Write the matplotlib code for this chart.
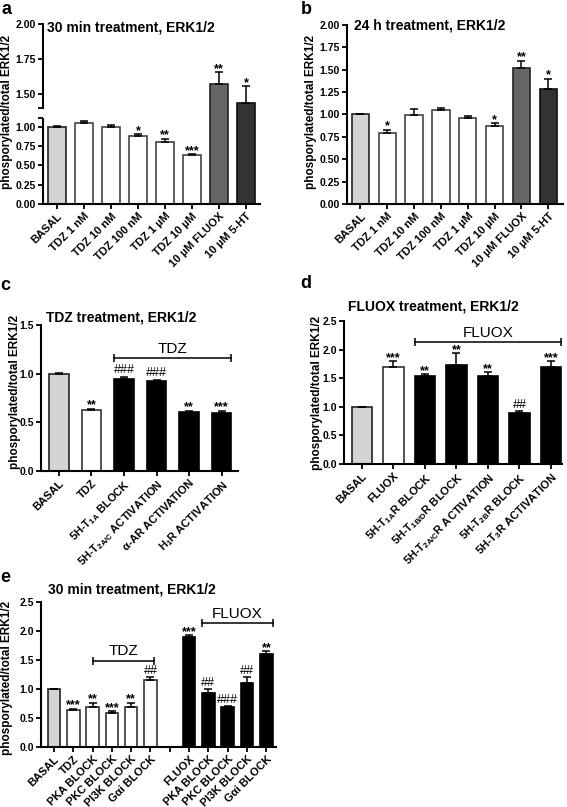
import numpy as np
import matplotlib
matplotlib.use('Agg')
import matplotlib.pyplot as plt

plt.rcParams['font.family'] = ['Liberation Sans', 'DejaVu Sans']
plt.rcParams['font.weight'] = 'bold'
plt.rcParams['mathtext.fontset'] = 'custom'
plt.rcParams['mathtext.rm'] = 'Liberation Sans:bold'
plt.rcParams['mathtext.it'] = 'Liberation Sans:bold'
plt.rcParams['mathtext.bf'] = 'Liberation Sans:bold'
plt.rcParams['mathtext.default'] = 'rm'

# ---- data ----
a_labels = ['BASAL', 'TDZ 1 nM', 'TDZ 10 nM', 'TDZ 100 nM', 'TDZ 1 µM', 'TDZ 10 µM',
            '10 µM FLUOX', '10 µM 5-HT']
a_means = [1.00, 1.05, 0.99, 0.88, 0.80, 0.63, 1.575, 1.435]
a_errs = [0.005, 0.02, 0.03, 0.02, 0.04, 0.01, 0.08, 0.12]
a_sig = ['', '', '', '*', '**', '***', '**', '*']

b_labels = a_labels
b_means = [1.00, 0.79, 0.99, 1.05, 0.96, 0.87, 1.52, 1.28]
b_errs = [0.005, 0.04, 0.07, 0.02, 0.02, 0.03, 0.08, 0.12]
b_sig = ['', '*', '', '', '', '*', '**', '*']

c_labels = ['BASAL', 'TDZ', '5H-T$_{1A}$ BLOCK', '5H-T$_{2A/C}$ ACTIVATION',
            'α-AR ACTIVATION', 'H$_1$R ACTIVATION']
c_means = [1.00, 0.63, 0.95, 0.92, 0.61, 0.60]
c_errs = [0.005, 0.01, 0.02, 0.02, 0.01, 0.02]
c_sig = ['', '**', '###', '###', '**', '***']

d_labels = ['BASAL', 'FLUOX', '5H-T$_{1A}$R BLOCK', '5H-T$_{1B/D}$R BLOCK',
            '5H-T$_{2A/C}$R ACTIVATION', '5H-T$_{2B}$R BLOCK', '5H-T$_3$R ACTIVATION']
d_means = [1.00, 1.69, 1.53, 1.73, 1.54, 0.90, 1.69]
d_errs = [0.005, 0.11, 0.04, 0.21, 0.06, 0.02, 0.11]
d_sig = ['', '***', '**', '**', '**', '##', '***']

e_tdz_labels = ['BASAL', 'TDZ', 'PKA BLOCK', 'PKC BLOCK', 'PI3K BLOCK', 'Gαi BLOCK']
e_tdz_means = [1.00, 0.645, 0.69, 0.59, 0.69, 1.15]
e_tdz_errs = [0.005, 0.015, 0.07, 0.03, 0.07, 0.05]
e_tdz_sig = ['', '***', '**', '***', '**', '##']
e_flx_labels = ['FLUOX', 'PKA BLOCK', 'PKC BLOCK', 'PI3K BLOCK', 'Gαi BLOCK']
e_flx_means = [1.90, 0.93, 0.69, 1.10, 1.60]
e_flx_errs = [0.03, 0.07, 0.01, 0.10, 0.05]
e_flx_sig = ['***', '##', '###', '##', '**']

# ---- styles ----
GRAY = '#d4d4d4'
W, H = 567, 807
fig = plt.figure(figsize=(W / 100, H / 100), dpi=100)


def px_axes(left, top, right, bottom):
    return fig.add_axes([left / W, 1 - bottom / H, (right - left) / W, (bottom - top) / H])


def style_axes(ax, bottom=True):
    ax.spines['top'].set_visible(False)
    ax.spines['right'].set_visible(False)
    ax.spines['left'].set_linewidth(1.5)
    ax.spines['bottom'].set_linewidth(1.5)
    if not bottom:
        ax.spines['bottom'].set_visible(False)
    ax.tick_params(axis='both', which='both', direction='out', length=3.5, width=1.3,
                   labelsize=7.5, pad=1.5)


def draw_bars(ax, x, means, errs, colors, edges, width):
    ax.bar(x, means, width, color=colors, edgecolor=edges, linewidth=1.2, zorder=2)
    ax.errorbar(x, means, yerr=[np.zeros(len(errs)), errs], fmt='none', ecolor='k',
                elinewidth=1.1, capsize=3, capthick=1.1, zorder=3)


def add_sig(ax, x, means, errs, sig):
    for xi, m, e, s in zip(x, means, errs, sig):
        if not s:
            continue
        top = m + e
        if s.startswith('#'):
            ax.annotate(s, (xi, top), xytext=(0, 0.3), textcoords='offset points',
                        ha='center', va='bottom', fontsize=9, fontweight='normal',
                        annotation_clip=False)
        else:
            ax.annotate(s, (xi, top), xytext=(0, 0.2), textcoords='offset points',
                        ha='center', va='baseline', fontsize=9, fontweight='bold',
                        annotation_clip=False)


def bracket(ax, x0, x1, y, text):
    ax.plot([x0, x1], [y, y], color='k', lw=1.1, clip_on=False)
    ax.plot([x0, x1], [y, y], ls='none', marker='|', ms=6, mew=1.1, color='k', clip_on=False)
    ax.annotate(text, ((x0 + x1) / 2, y), xytext=(0, 1.5), textcoords='offset points',
                ha='center', va='bottom', fontsize=11, fontweight='normal')


def xlabels(ax, x, labels):
    ax.set_xticks(x)
    ax.set_xticklabels(labels, rotation=45, ha='right', rotation_mode='anchor', fontsize=8)


def ylabel(xp, yp):
    fig.text(xp / W, 1 - yp / H, 'phosporylated/total ERK1/2', rotation=90,
             ha='center', va='center', fontsize=8.5, fontweight='bold')


def title(xp, yp, s):
    fig.text(xp / W, 1 - yp / H, s, ha='left', va='center', fontsize=10, fontweight='bold')


def letter(xp, yp, s):
    fig.text(xp / W, 1 - yp / H, s, ha='center', va='center', fontsize=13, fontweight='bold')


# ---- panel a (broken axis) ----
a_colors = [GRAY] + ['white'] * 5 + ['#666666', '#333333']
a_edges = ['#222222'] + ['#444444'] * 5 + ['#222222', '#111111']
xa = np.arange(len(a_labels))
ax_lo = px_axes(43, 118, 260, 204)
ax_hi = px_axes(43, 24, 260, 118)
for ax in (ax_lo, ax_hi):
    draw_bars(ax, xa, a_means, a_errs, a_colors, a_edges, 0.67)
    ax.set_xlim(-0.52, 7.52)
style_axes(ax_lo)
style_axes(ax_hi, bottom=False)
ax_lo.set_ylim(0, 1.11)
ax_lo.set_yticks([0, 0.25, 0.5, 0.75, 1.0])
ax_lo.set_yticks([1.11], minor=True)
xlabels(ax_lo, xa, a_labels)
ax_hi.set_ylim(1.33, 2.0)
ax_hi.spines['left'].set_bounds(1.40, 2.0)
ax_hi.set_yticks([1.5, 1.75, 2.0])
ax_hi.set_yticks([1.40], minor=True)
ax_hi.set_xticks([])
lo_mask = [m + e < 1.1 for m, e in zip(a_means, a_errs)]
add_sig(ax_lo, xa[lo_mask], np.array(a_means)[lo_mask], np.array(a_errs)[lo_mask],
        np.array(a_sig)[lo_mask])
hi_mask = [not v for v in lo_mask]
add_sig(ax_hi, xa[hi_mask], np.array(a_means)[hi_mask], np.array(a_errs)[hi_mask],
        np.array(a_sig)[hi_mask])
ylabel(7, 112)
title(47, 27, '30 min treatment, ERK1/2')
letter(6, 10, 'a')

# ---- panel b ----
axb = px_axes(347, 25, 563, 204)
xb = np.arange(len(b_labels))
draw_bars(axb, xb, b_means, b_errs, a_colors, a_edges, 0.65)
style_axes(axb)
axb.set_xlim(-0.5, 7.55)
axb.set_ylim(0, 2.0)
axb.set_yticks(np.arange(0, 2.01, 0.25))
xlabels(axb, xb, b_labels)
add_sig(axb, xb, b_means, b_errs, b_sig)
ylabel(311, 112)
title(354, 26, '24 h treatment, ERK1/2')
letter(306, 9, 'b')

# ---- panel c ----
axc = px_axes(41, 325, 238, 471)
xc = np.arange(len(c_labels))
c_colors = [GRAY, 'white'] + ['black'] * 4
c_edges = ['#222222', '#333333'] + ['black'] * 4
draw_bars(axc, xc, c_means, c_errs, c_colors, c_edges, 0.6)
style_axes(axc)
axc.set_xlim(-0.55, 5.5)
axc.set_ylim(0, 1.5)
axc.set_yticks([0, 0.5, 1.0, 1.5])
xlabels(axc, xc, c_labels)
add_sig(axc, xc, c_means, c_errs, c_sig)
bracket(axc, 2 - 0.3, 5 + 0.3, 1.16, 'TDZ')
ylabel(15, 392)
title(46, 318, 'TDZ treatment, ERK1/2')
letter(5, 286, 'c')

# ---- panel d ----
axd = px_axes(344, 321, 562, 464)
xd = np.arange(len(d_labels))
d_colors = [GRAY, 'white'] + ['black'] * 5
d_edges = ['#222222', '#333333'] + ['black'] * 5
draw_bars(axd, xd, d_means, d_errs, d_colors, d_edges, 0.65)
style_axes(axd)
axd.set_xlim(-0.57, 6.35)
axd.set_ylim(0, 2.5)
axd.set_yticks([0, 0.5, 1.0, 1.5, 2.0, 2.5])
xlabels(axd, xd, d_labels)
add_sig(axd, xd, d_means, d_errs, d_sig)
bracket(axd, 2 - 0.33, 6 + 0.33, 2.13, 'FLUOX')
ylabel(317, 393)
title(348, 307, 'FLUOX treatment, ERK1/2')
letter(306, 283, 'd')

# ---- panel e ----
axe = px_axes(41, 602, 276, 747)
xe1 = np.arange(len(e_tdz_labels))
xe2 = np.arange(len(e_flx_labels)) + len(e_tdz_labels) + 1
draw_bars(axe, xe1, e_tdz_means, e_tdz_errs, [GRAY] + ['white'] * 5,
          ['#222222'] + ['#333333'] * 5, 0.65)
draw_bars(axe, xe2, e_flx_means, e_flx_errs, ['black'] * 5, ['black'] * 5, 0.65)
style_axes(axe)
axe.set_xlim(-0.67, 11.5)
axe.set_ylim(0, 2.5)
axe.set_yticks([0, 0.5, 1.0, 1.5, 2.0, 2.5])
axe.set_xticks(list(xe1) + [len(e_tdz_labels)] + list(xe2))
axe.set_xticklabels(e_tdz_labels + [''] + e_flx_labels, rotation=45, ha='right',
                    rotation_mode='anchor', fontsize=8)
add_sig(axe, xe1, e_tdz_means, e_tdz_errs, e_tdz_sig)
add_sig(axe, xe2, e_flx_means, e_flx_errs, e_flx_sig)
bracket(axe, xe1[2], xe1[-1] + 0.2, 1.49, 'TDZ')
bracket(axe, xe2[1] - 0.33, xe2[-1] + 0.33, 2.13, 'FLUOX')
ylabel(7, 678)
title(48, 590, '30 min treatment, ERK1/2')
letter(5, 578, 'e')

fig.savefig('out.png', dpi=100)
